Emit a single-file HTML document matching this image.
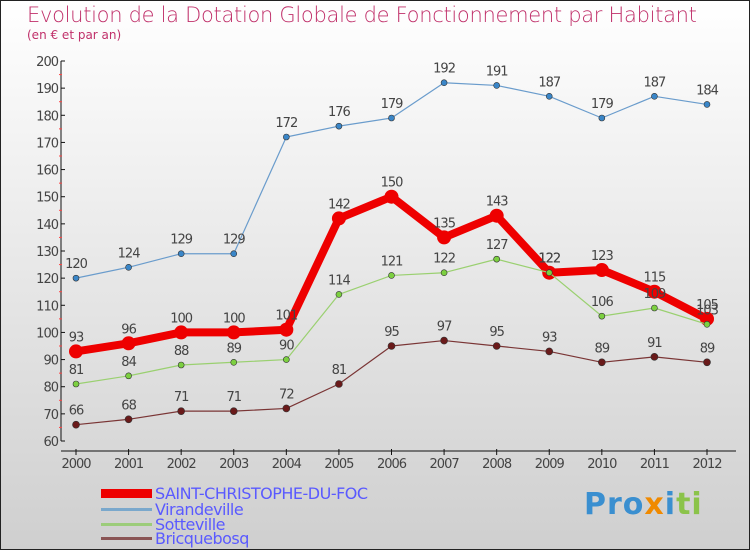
<!DOCTYPE html>
<html><head><meta charset="utf-8"><style>
body{margin:0}
#c{position:relative;width:750px;height:550px;box-sizing:border-box;border:1px solid #222;background:linear-gradient(#ffffff,#cfcfcf);font-family:"DejaVu Sans","Liberation Sans",sans-serif;overflow:hidden}
.t{position:absolute;left:26px;top:2px;font-size:21px;color:#c0306a;font-weight:200;letter-spacing:-0.3px}
.s{position:absolute;left:26px;top:27px;font-size:12px;color:#c0306a}
.lg{position:absolute;left:154px;font-size:16px;color:#5a5aff;line-height:16px;letter-spacing:-0.5px}
.ll{position:absolute;left:100px;width:51px}
</style></head><body>
<div id="c">
<div class="t">Evolution de la Dotation Globale de Fonctionnement par Habitant</div>
<div class="s">(en € et par an)</div>
<svg id="g" width="750" height="550" style="position:absolute;left:0;top:0"></svg>
<div class="ll" style="top:488px;height:9px;background:#e00"></div>
<div class="ll" style="top:507px;height:3px;background:#7aa8cc"></div>
<div class="ll" style="top:522px;height:3px;background:#9ccc7a"></div>
<div class="ll" style="top:536px;height:3px;background:#8a5555"></div>
<div class="lg" style="top:485px">SAINT-CHRISTOPHE-DU-FOC</div>
<div class="lg" style="top:501px">Virandeville</div>
<div class="lg" style="top:516px">Sotteville</div>
<div class="lg" style="top:530px">Bricquebosq</div>
<div style="position:absolute;left:583px;top:486px;font-size:30px;font-weight:bold;letter-spacing:1px"><span style="color:#3a8fd0">Pro</span><span style="color:#f08a00">x</span><span style="color:#3a8fd0">i</span><span style="color:#8bc34a">ti</span></div>
</div>
<script>
const years=["2000","2001","2002","2003","2004","2005","2006","2007","2008","2009","2010","2011","2012"];
const saint=[93,96,100,100,101,142,150,135,143,122,123,115,105];
const viran=[120,124,129,129,172,176,179,192,191,187,179,187,184];
const sotte=[81,84,88,89,90,114,121,122,127,122,106,109,103];
const bricq=[66,68,71,71,72,81,95,97,95,93,89,91,89];
const yTicks=[60,70,80,90,100,110,120,130,140,150,160,170,180,190,200];
const NS="http://www.w3.org/2000/svg",svg=document.getElementById('g');
const X=i=>75+i*(706-75)/12, Y=v=>440-(v-60)*380/140;
function el(t,a,name){const e=document.createElementNS(NS,t);for(const k in a)e.setAttribute(k,a[k]);


svg.appendChild(e);return e;}
el('line',{x1:60,y1:60,x2:60,y2:440,stroke:'#111','stroke-width':1},'y-axis');
el('line',{x1:60,y1:450,x2:735,y2:450,stroke:'#111','stroke-width':1},'x-axis');
yTicks.forEach(v=>{el('line',{x1:60,y1:Y(v),x2:64,y2:Y(v),stroke:'#111'},'y-tick');
const t=el('text',{x:57,y:Y(v)+5,'text-anchor':'end','font-size':13,fill:'#444','font-family':'DejaVu Sans,sans-serif','letter-spacing':'-1'},'y-tick-label');t.textContent=v;
if(v<200)el('line',{x1:58,y1:Y(v+5),x2:61,y2:Y(v+5),stroke:'#f44'},'y-minor-tick');});
years.forEach((y,i)=>{el('line',{x1:X(i),y1:448,x2:X(i),y2:454,stroke:'#111'},'x-tick');
const t=el('text',{x:X(i),y:467,'text-anchor':'middle','font-size':13,fill:'#444','font-family':'DejaVu Sans,sans-serif','letter-spacing':'-1'},'x-tick-label');t.textContent=y;});
function series(d,col,w,r,fill,name){
el('polyline',{points:d.map((v,i)=>X(i)+','+Y(v)).join(' '),fill:'none',stroke:col,'stroke-width':w,'stroke-linejoin':'round'},name+'-line');
d.forEach((v,i)=>{el('circle',{cx:X(i),cy:Y(v),r:r,fill:fill,stroke:'#333','stroke-width':w>3?0:0.6},name+'-point');
const t=el('text',{x:X(i),y:Y(v)-10,'text-anchor':'middle','font-size':13,fill:'#444','font-family':'DejaVu Sans,sans-serif','letter-spacing':'-1'},name+'-value-label');t.textContent=v;});}
series(saint,'#e00',8,7,'#e00','saint');
series(viran,'#6a9ccc',1.2,3,'#3a86c8','virandeville');
series(sotte,'#9ad070',1.2,3,'#7cd040','sotteville');
series(bricq,'#7a3535',1.2,3.5,'#6a1a1a','bricquebosq');
</script>
</body></html>
